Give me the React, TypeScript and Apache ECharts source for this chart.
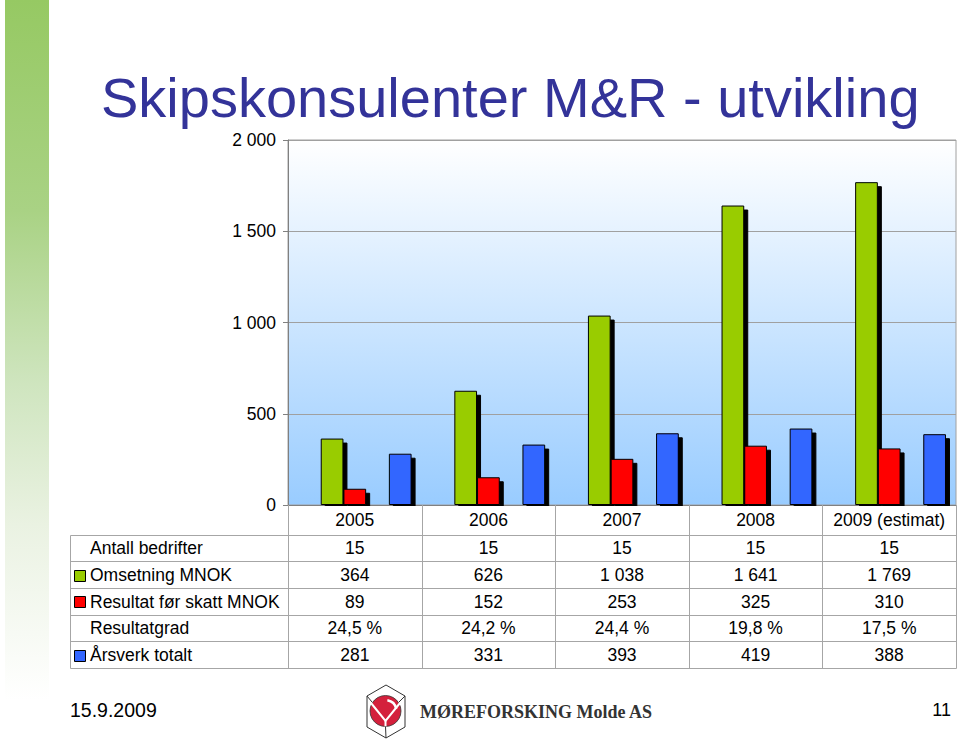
import React, { useEffect, useRef } from 'react';
import * as echarts from 'echarts';

// ---- data ----
const years = ['2005', '2006', '2007', '2008', '2009 (estimat)'];
const antallBedrifter = [15, 15, 15, 15, 15];
const omsetning = [364, 626, 1038, 1641, 1769];
const resultat = [89, 152, 253, 325, 310];
const resultatgrad = [24.5, 24.2, 24.4, 19.8, 17.5];
const arsverk = [281, 331, 393, 419, 388];
const yMin = 0;
const yMax = 2000;
const yStep = 500;

const titleText = 'Skipskonsulenter M&R - utvikling';
const dateText = '15.9.2009';
const pageText = '11';
const logoText = 'MØREFORSKING Molde AS';

const GREEN = '#99CC00';
const RED = '#FF0000';
const BLUE = '#3366FF';

const fmtInt = (v: number) => String(v).replace(/\B(?=(\d{3})+(?!\d))/g, ' ');
const fmtPct = (v: number) => v.toFixed(1).replace('.', ',') + ' %';

const rows = [
  { label: 'Antall bedrifter', values: antallBedrifter.map(fmtInt), color: null as string | null },
  { label: 'Omsetning MNOK', values: omsetning.map(fmtInt), color: GREEN },
  { label: 'Resultat før skatt MNOK', values: resultat.map(fmtInt), color: RED },
  { label: 'Resultatgrad', values: resultatgrad.map(fmtPct), color: null },
  { label: 'Årsverk totalt', values: arsverk.map(fmtInt), color: BLUE },
];

const FONT = '"Liberation Sans", Arial, sans-serif';

export default function App() {
  const ref = useRef<HTMLDivElement>(null);

  useEffect(() => {
    const el = ref.current!;
    const chart = echarts.init(el, null, { renderer: 'svg' });

    const visibleStyle = (c: string) => ({
      color: c,
      borderColor: '#000',
      borderWidth: 1,
      shadowColor: '#000',
      shadowBlur: 0,
      shadowOffsetX: 4,
      shadowOffsetY: 4,
    });
    const hiddenStyle = { color: 'rgba(0,0,0,0)', borderWidth: 0 };

    chart.setOption({
      animation: false,
      grid: {
        left: 288,
        right: 3,
        top: 140,
        bottom: 238,
        show: true,
        borderColor: '#a0a0a0',
        borderWidth: 1,
        backgroundColor: new echarts.graphic.LinearGradient(0, 0, 0, 1, [
          { offset: 0, color: '#ffffff' },
          { offset: 1, color: '#99ccff' },
        ]),
      },
      xAxis: {
        type: 'category',
        data: years,
        axisLine: { show: true, lineStyle: { color: '#808080', width: 1 } },
        axisTick: { show: false },
        axisLabel: {
          interval: 0,
          fontSize: 17.5,
          fontFamily: FONT,
          color: '#000',
          margin: 15,
          verticalAlign: 'middle',
        },
      },
      yAxis: {
        type: 'value',
        min: yMin,
        max: yMax,
        interval: yStep,
        axisLine: { show: true, lineStyle: { color: '#808080', width: 1 } },
        axisTick: { show: true, length: 5, lineStyle: { color: '#808080' } },
        splitLine: { show: true, lineStyle: { color: '#a0a0a0', width: 1 } },
        axisLabel: {
          fontSize: 17.5,
          fontFamily: FONT,
          color: '#000',
          margin: 12,
          formatter: (v: number) => fmtInt(v),
        },
      },
      series: [
        { name: 'Antall bedrifter', type: 'bar', data: antallBedrifter, itemStyle: hiddenStyle, silent: true, barGap: '0%', barCategoryGap: '15%' },
        { name: 'Omsetning MNOK', type: 'bar', data: omsetning, itemStyle: visibleStyle(GREEN), barGap: '0%', barCategoryGap: '15%' },
        { name: 'Resultat før skatt MNOK', type: 'bar', data: resultat, itemStyle: visibleStyle(RED), barGap: '0%', barCategoryGap: '15%' },
        { name: 'Resultatgrad', type: 'bar', data: resultatgrad, itemStyle: hiddenStyle, silent: true, barGap: '0%', barCategoryGap: '15%' },
        { name: 'Årsverk totalt', type: 'bar', data: arsverk, itemStyle: visibleStyle(BLUE), barGap: '0%', barCategoryGap: '15%' },
      ],
    });

    // positions from the library's scales
    const centers = years.map((_, i) => chart.convertToPixel({ xAxisIndex: 0 }, i) as number);
    const band = centers[1] - centers[0];
    const y0 = chart.convertToPixel({ yAxisIndex: 0 }, yMin) as number;
    const gridLeft = centers[0] - band / 2;
    const gridRight = centers[centers.length - 1] + band / 2;
    const tableLeft = 70;
    const headerBottom = y0 + 29.5;
    const rowH = 26.7;
    const rowLines = [0, 1, 2, 3, 4, 5].map((i) => headerBottom + i * rowH);
    const tableBottom = rowLines[rowLines.length - 1];
    const crisp = (v: number) => Math.round(v) + 0.5;
    const lineColor = '#a6a6a6';

    const elements: any[] = [];

    // left decorative strip
    elements.push({
      type: 'rect',
      shape: { x: 5, y: 0, width: 44, height: 700 },
      style: {
        fill: new echarts.graphic.LinearGradient(0, 0, 0, 1, [
          { offset: 0, color: '#96c963' },
          { offset: 0.3, color: '#a9d284' },
          { offset: 0.55, color: '#cfe5bf' },
          { offset: 0.75, color: '#eaf2e2' },
          { offset: 1, color: '#ffffff' },
        ]),
      },
      silent: true,
    });

    // cover for bar shadows spilling below the zero line
    elements.push({
      type: 'rect',
      z: 20,
      shape: { x: gridLeft + 1, y: Math.round(y0) + 1, width: gridRight - gridLeft - 1, height: 6 },
      style: { fill: '#ffffff' },
      silent: true,
    });

    // title
    elements.push({
      type: 'text',
      x: 101,
      y: 97,
      style: {
        text: titleText,
        fontSize: 56,
        fontFamily: FONT,
        fill: '#333399',
        align: 'left',
        verticalAlign: 'middle',
      },
    });

    // table vertical lines
    const vxs = [gridLeft, ...centers.map((c) => c + band / 2)];
    vxs.forEach((x) => {
      elements.push({
        type: 'line',
        z: 21,
        shape: { x1: crisp(x), y1: y0, x2: crisp(x), y2: crisp(tableBottom) },
        style: { stroke: lineColor, lineWidth: 1 },
        silent: true,
      });
    });
    elements.push({
      type: 'line',
      z: 21,
      shape: { x1: crisp(tableLeft), y1: crisp(headerBottom), x2: crisp(tableLeft), y2: crisp(tableBottom) },
      style: { stroke: lineColor, lineWidth: 1 },
      silent: true,
    });
    // horizontal lines
    rowLines.forEach((y) => {
      elements.push({
        type: 'line',
        z: 21,
        shape: { x1: crisp(tableLeft), y1: crisp(y), x2: crisp(gridRight), y2: crisp(y) },
        style: { stroke: lineColor, lineWidth: 1 },
        silent: true,
      });
    });

    // row contents
    rows.forEach((row, r) => {
      const cy = (rowLines[r] + rowLines[r + 1]) / 2 + 0.5;
      if (row.color) {
        elements.push({
          type: 'rect',
          shape: { x: 74.5, y: Math.round(cy - 5.5) + 0.5, width: 11, height: 11 },
          style: { fill: row.color, stroke: '#000', lineWidth: 1 },
        });
      }
      elements.push({
        type: 'text',
        x: 90,
        y: cy,
        style: { text: row.label, fontSize: 17.5, fontFamily: FONT, fill: '#000', align: 'left', verticalAlign: 'middle' },
      });
      row.values.forEach((v, i) => {
        elements.push({
          type: 'text',
          x: centers[i],
          y: cy,
          style: { text: v, fontSize: 17.5, fontFamily: FONT, fill: '#000', align: 'center', verticalAlign: 'middle' },
        });
      });
    });

    // footer
    elements.push({
      type: 'text',
      x: 70,
      y: 710,
      style: { text: dateText, fontSize: 19.5, fontFamily: FONT, fill: '#000', align: 'left', verticalAlign: 'middle' },
    });
    elements.push({
      type: 'text',
      x: 951,
      y: 710,
      style: { text: pageText, fontSize: 18, fontFamily: FONT, fill: '#000', align: 'right', verticalAlign: 'middle' },
    });

    // logo
    elements.push({
      type: 'group',
      children: [
        {
          type: 'polygon',
          shape: { points: [[386, 685], [405, 696], [405, 727], [386, 738], [367, 727], [367, 696]] },
          style: { fill: '#ffffff', stroke: '#333', lineWidth: 1 },
        },
        {
          type: 'circle',
          shape: { cx: 385.5, cy: 711, r: 15.5 },
          style: { fill: '#d4203c', stroke: '#333', lineWidth: 0.8 },
        },
        {
          type: 'polyline',
          shape: { points: [[371, 703], [385.5, 721], [400, 703]] },
          style: { stroke: '#ffffff', lineWidth: 2, fill: 'none' },
        },
        {
          type: 'line',
          shape: { x1: 385.5, y1: 721, x2: 385.5, y2: 726.5 },
          style: { stroke: '#ffffff', lineWidth: 2 },
        },
        {
          type: 'line',
          shape: { x1: 385.5, y1: 726.5, x2: 386, y2: 738 },
          style: { stroke: '#333', lineWidth: 1 },
        },
        {
          type: 'line',
          shape: { x1: 367, y1: 696, x2: 372, y2: 702 },
          style: { stroke: '#333', lineWidth: 1 },
        },
        {
          type: 'line',
          shape: { x1: 405, y1: 696, x2: 399, y2: 702 },
          style: { stroke: '#333', lineWidth: 1 },
        },
        {
          type: 'arc',
          shape: { cx: 385.5, cy: 711, r: 11, startAngle: -1.4, endAngle: -0.2, clockwise: true },
          style: { stroke: '#ffffff', lineWidth: 2.5, fill: 'none' },
        },
      ],
    });
    elements.push({
      type: 'text',
      x: 420,
      y: 712,
      style: {
        text: logoText,
        fontSize: 18,
        fontWeight: 'bold',
        fontFamily: '"Liberation Serif", "Times New Roman", serif',
        fill: '#333',
        align: 'left',
        verticalAlign: 'middle',
      },
    });

    chart.setOption({ graphic: { elements } });

    return () => chart.dispose();
  }, []);

  return (
    <div
      ref={ref}
      style={{ position: 'fixed', left: 0, top: 0, width: 959, height: 743, background: '#fff' }}
    />
  );
}
